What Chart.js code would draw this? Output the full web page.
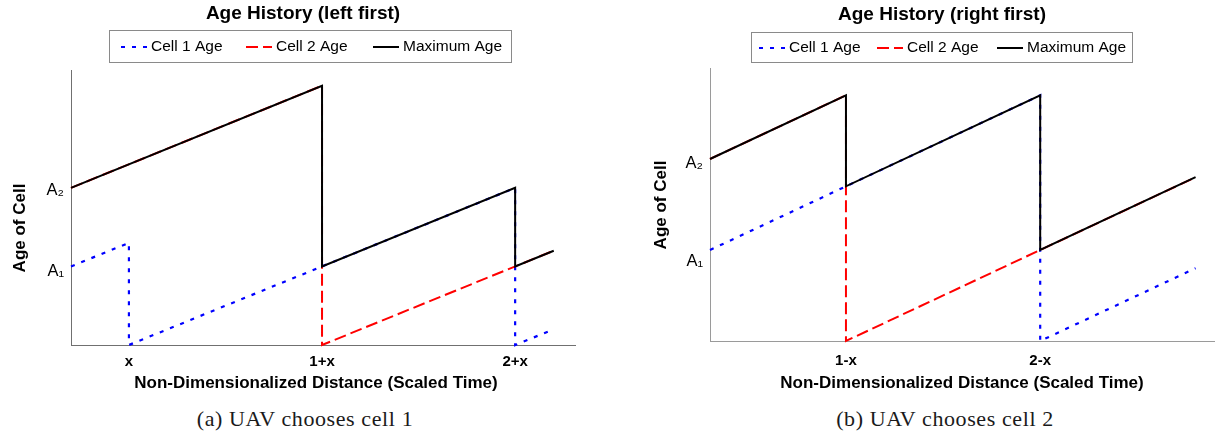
<!DOCTYPE html>
<html><head><meta charset="utf-8">
<script src="https://cdn.jsdelivr.net/npm/chart.js@4.4.1/dist/chart.umd.min.js"></script>
<style>
html,body{margin:0;padding:0;background:#fff;width:1215px;height:445px;overflow:hidden;}
#c1{position:absolute;left:0;top:0;}
#c2{position:absolute;left:610px;top:0;}
.cap{position:absolute;top:408px;line-height:22px;font-family:'Liberation Serif','DejaVu Serif',serif;font-size:22px;color:#1a1a1a;white-space:nowrap;transform:translateX(-50%);letter-spacing:0.6px}
</style></head><body>
<canvas id="c1" width="600" height="400"></canvas>
<canvas id="c2" width="605" height="400"></canvas>
<div class="cap" style="left:305px">(a) UAV chooses cell 1</div>
<div class="cap" style="left:945px">(b) UAV chooses cell 2</div>
<script>
// ---------------- data ----------------
const seriesNames = ['Cell 1 Age', 'Cell 2 Age', 'Maximum Age'];

// (a) left first
const leftCell1X = [0, 0.3, 0.3, 2.3, 2.3, 2.5];
const leftCell1Y = [1, 1.3, 0, 2, 0, 0.2];
const leftCell2X = [0, 1.3, 1.3, 2.5];
const leftCell2Y = [2, 3.3, 0, 1.2];
const leftMaxX = [0, 1.3, 1.3, 2.3, 2.3, 2.5];
const leftMaxY = [2, 3.3, 1, 2, 1, 1.2];
const leftXTickValues = [0.3, 1.3, 2.3];
const leftXTickLabels = ['x', '1+x', '2+x'];
const leftYTickValues = [0.94, 1.97];
const leftYTickLabels = ['A\u2081', 'A\u2082'];

// (b) right first
const rightCell1X = [0, 1.7, 1.7, 2.5];
const rightCell1Y = [1, 2.7, 0, 0.8];
const rightCell2X = [0, 0.7, 0.7, 2.5];
const rightCell2Y = [2, 2.7, 0, 1.8];
const rightMaxX = [0, 0.7, 0.7, 1.7, 1.7, 2.5];
const rightMaxY = [2, 2.7, 1.7, 2.7, 1, 1.8];
const rightXTickValues = [0.7, 1.7];
const rightXTickLabels = ['1-x', '2-x'];
const rightYTickValues = [0.87, 1.95];
const rightYTickLabels = ['A\u2081', 'A\u2082'];

// ---------------- rendering ----------------
Chart.defaults.font.family = "'Liberation Sans', Arial, 'DejaVu Sans', sans-serif";
Chart.defaults.color = '#000';

const pts = (xs, ys) => xs.map((x, i) => ({x: x, y: ys[i]}));

const annot = {
  id: 'annot',
  afterDraw(chart, args, o) {
    const ctx = chart.ctx;
    ctx.save();
    const L = o.legend;
    ctx.strokeStyle = '#8a8a8a'; ctx.lineWidth = 1; ctx.setLineDash([]);
    ctx.strokeRect(L.x + 0.5, L.y + 0.5, L.w, L.h);
    ctx.font = L.font; ctx.textBaseline = 'middle'; ctx.textAlign = 'left'; ctx.fillStyle = '#000';
    const y = L.y + L.h / 2 + 1;
    chart.data.datasets.forEach((ds, i) => {
      const x0 = L.items[i];
      ctx.beginPath();
      ctx.setLineDash(ds.borderDash || []);
      ctx.strokeStyle = ds.borderColor; ctx.lineWidth = ds.borderWidth;
      ctx.moveTo(x0, y); ctx.lineTo(x0 + L.lineLen, y); ctx.stroke();
      ctx.setLineDash([]);
      ctx.fillText(ds.label, x0 + L.lineLen + L.gap, y);
    });
    ctx.font = "bold 17px 'Liberation Sans', Arial, sans-serif";
    ctx.textAlign = 'center'; ctx.textBaseline = 'middle';
    ctx.fillText(o.xTitle.text, o.xTitle.x, o.xTitle.y);
    ctx.translate(o.yTitle.x, o.yTitle.y);
    ctx.rotate(-Math.PI / 2);
    ctx.fillText(o.yTitle.text, 0, 0);
    ctx.restore();
  }
};

function makeChart(id, c) {
  const ds = [
    {label: seriesNames[0], data: pts(c.c1x, c.c1y), borderColor: '#0000ff', borderWidth: 2.2, borderDash: [4, 7], order: 2},
    {label: seriesNames[1], data: pts(c.c2x, c.c2y), borderColor: '#ff0000', borderWidth: 2, borderDash: [12, 5], order: 1},
    {label: seriesNames[2], data: pts(c.mx, c.my), borderColor: '#000000', borderWidth: 2, borderDash: [], order: 0}
  ].map(d => Object.assign(d, {showLine: true, pointRadius: 0, fill: false, tension: 0, clip: 5, borderCapStyle: 'butt', borderJoinStyle: 'miter'}));
  return new Chart(document.getElementById(id), {
    type: 'scatter',
    data: {datasets: ds},
    plugins: [annot],
    options: {
      responsive: false, animation: false, devicePixelRatio: 1,
      layout: {padding: c.pad},
      plugins: {
        legend: {display: false}, tooltip: {enabled: false},
        title: {display: true, text: c.title, color: '#000', font: {size: 19, weight: 'bold'}, padding: c.titlePad},
        annot: c.annot
      },
      scales: {
        x: {
          type: 'linear', min: 0, max: c.xMax,
          grid: {display: false, drawTicks: false, tickLength: 0},
          border: {display: true, color: c.axisColor, width: 1},
          afterFit: s => { s.height = c.xH; },
          afterBuildTicks: s => { s.ticks = c.xtv.map(v => ({value: v})); },
          ticks: {autoSkip: false, maxRotation: 0, padding: c.xTickPad, font: {size: 15, weight: 'bold'}, color: '#000',
                  callback: (v, i) => c.xtl[i]}
        },
        y: {
          type: 'linear', min: 0, max: c.yMax,
          grid: {display: false, drawTicks: false, tickLength: 0},
          border: {display: true, color: c.axisColor, width: 1},
          afterFit: s => { s.width = c.yW; },
          afterBuildTicks: s => { s.ticks = c.ytv.map(v => ({value: v})); },
          ticks: {autoSkip: false, padding: 7, font: {size: 16.5}, color: '#000',
                  callback: (v, i) => c.ytl[i]}
        }
      }
    }
  });
}

makeChart('c1', {
  c1x: leftCell1X, c1y: leftCell1Y, c2x: leftCell2X, c2y: leftCell2Y, mx: leftMaxX, my: leftMaxY,
  xtv: leftXTickValues, xtl: leftXTickLabels, ytv: leftYTickValues, ytl: leftYTickLabels,
  title: 'Age History (left first)', titlePad: {top: 2.6, bottom: 44.6},
  pad: {left: 31, right: 25, top: 0, bottom: 0},
  xMax: 2.61, yMax: 3.5, xH: 55, yW: 40, xTickPad: 8, axisColor: '#707070',
  annot: {
    legend: {x: 109, y: 30, w: 402, h: 32, items: [121, 246, 373], lineLen: 26, gap: 4, font: "15.5px 'Liberation Sans', Arial, sans-serif"},
    xTitle: {text: 'Non-Dimensionalized Distance (Scaled Time)', x: 316, y: 383},
    yTitle: {text: 'Age of Cell', x: 20, y: 228}
  }
});

makeChart('c2', {
  c1x: rightCell1X, c1y: rightCell1Y, c2x: rightCell2X, c2y: rightCell2Y, mx: rightMaxX, my: rightMaxY,
  xtv: rightXTickValues, xtl: rightXTickLabels, ytv: rightYTickValues, ytl: rightYTickLabels,
  title: 'Age History (right first)', titlePad: {top: 3.6, bottom: 41.6},
  pad: {left: 59, right: 0, top: 0, bottom: 0},
  xMax: 2.6, yMax: 3.0, xH: 59, yW: 41, xTickPad: 11, axisColor: '#9a9a9a',
  annot: {
    legend: {x: 141, y: 32, w: 381, h: 30, items: [149, 267, 387], lineLen: 26, gap: 4, font: "15.5px 'Liberation Sans', Arial, sans-serif"},
    xTitle: {text: 'Non-Dimensionalized Distance (Scaled Time)', x: 352, y: 383},
    yTitle: {text: 'Age of Cell', x: 51, y: 205}
  }
});
</script>
</body></html>
